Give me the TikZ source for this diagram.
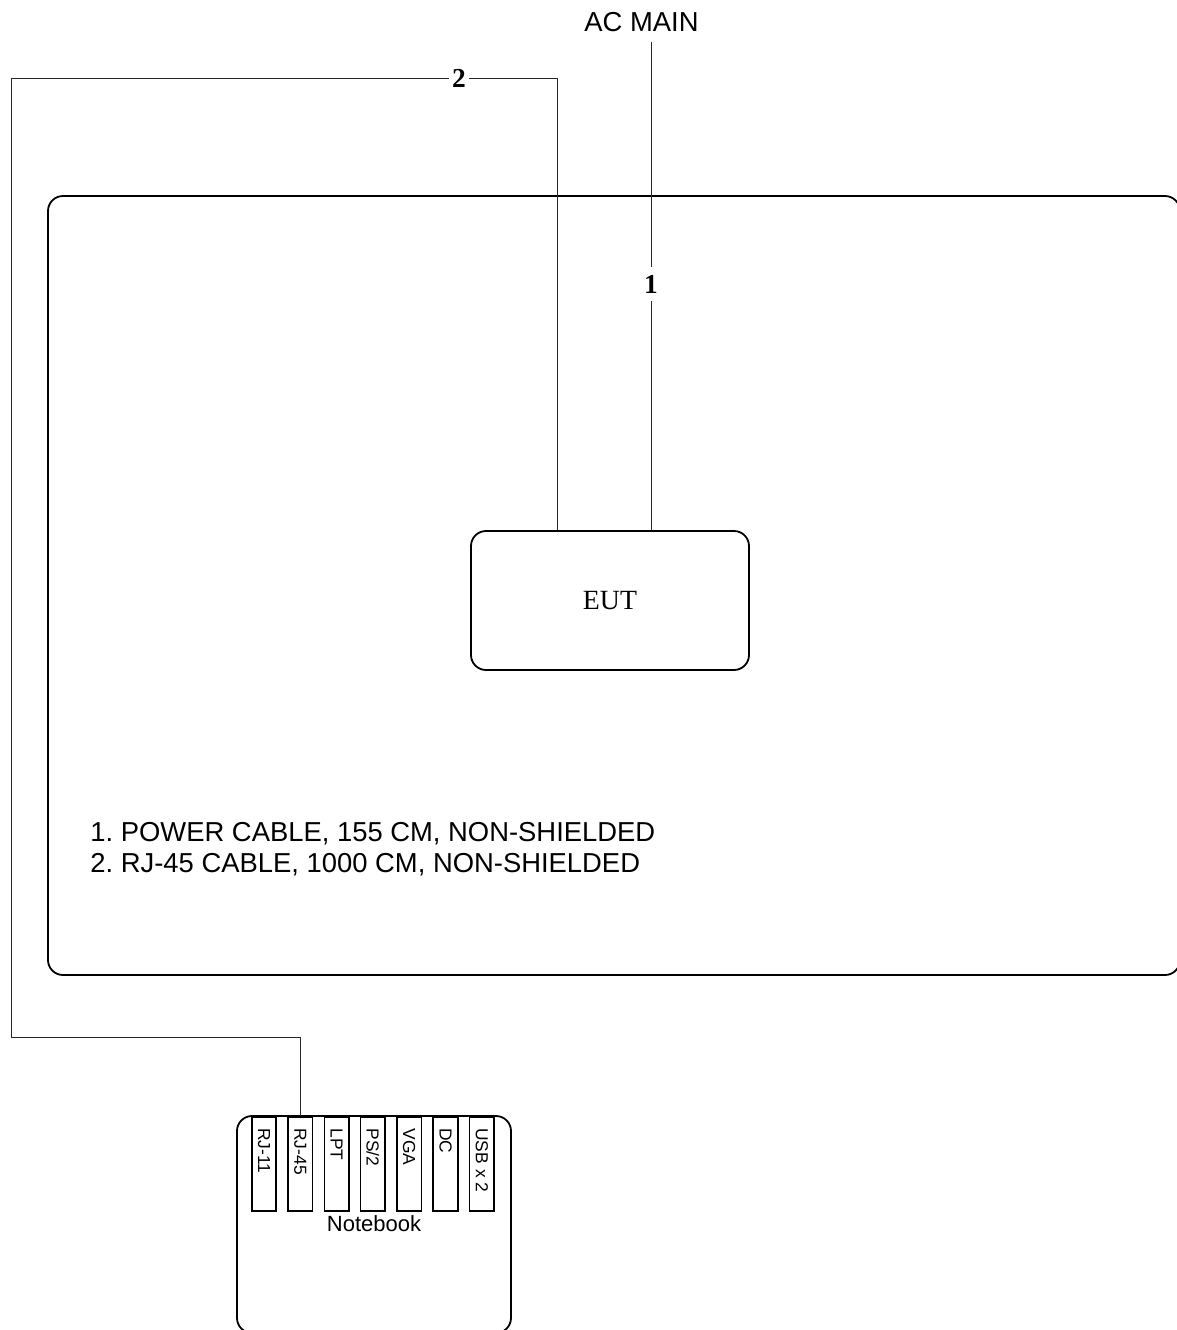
\documentclass[tikz,border=0pt]{standalone}
\usepackage{fontspec}
\setmainfont{Liberation Sans}
\newfontfamily\timesfont{Liberation Serif}
\usetikzlibrary{positioning}
\frenchspacing

\begin{document}
\begin{tikzpicture}[
  x=0.5pt, y=-0.5pt,
  font=\fontsize{13.7}{15.5}\selectfont,
  box/.style={draw, line width=0.9pt, rounded corners=7.5pt, inner sep=0pt},
  cable/.style={line width=0.5pt, draw=black!85},
  num/.style={font=\timesfont\bfseries\fontsize{13.7}{16}\selectfont, inner sep=1.5pt},
  port/.style={draw, line width=0.8pt, minimum width=12.25pt, minimum height=47pt,
    anchor=north, inner sep=0pt},
  portlbl/.style={font=\fontsize{8.7}{10}\selectfont, rotate=-90, anchor=west, inner sep=0pt}
]
\useasboundingbox (0,0) rectangle (1177,1330);

% ---- table ----
\node[box, minimum width=566pt, minimum height=389.5pt] (table) at (614,585.5) {};

% ---- EUT ----
\node[box, minimum width=139pt, minimum height=69.5pt,
      font=\timesfont\fontsize{13.9}{16}\selectfont] (eut) at (610,600.5) {EUT};

% ---- notebook with its ports ----
\node[box, minimum width=137pt, minimum height=108.5pt] (nb) at (374,1224.5) {};
\node[font=\fontsize{11}{13}\selectfont] (nblbl) at (374,1224) {Notebook};
\foreach \lbl [count=\i] in {RJ-11,RJ-45,LPT,PS/2,VGA,DC,USB x 2} {
  \node[port] (p\i) at ({264+36.3*(\i-1)},1116) {};
  \node[portlbl] at ([yshift=-6pt]p\i.north) {\lbl};
}

% ---- cable 1: AC main ----
\node (acmain) at (641.5,22) {AC MAIN};
\coordinate (acin) at (651,42);
\node[num, inner ysep=4pt] (one) at (651,284) {1};
\draw[cable] (acin) -- (one) -- (eut.north -| acin);

% ---- cable 2: RJ-45 to notebook ----
\node[num] (two) at (459,78) {2};
\coordinate (up2) at (557,78);
\coordinate (tl) at (11,78);
\coordinate (bl) at (11,1037);
\draw[cable] (eut.north -| up2) -- (up2) -- (two) -- (tl) -- (bl) -- (bl -| p2) -- (p2.north);

% ---- legend ----
\node[anchor=north west, align=left, inner sep=0pt] (legend) at (90,822)
  {1. POWER CABLE, 155 CM, NON-SHIELDED\\2. RJ-45 CABLE, 1000 CM, NON-SHIELDED};

\end{tikzpicture}
\end{document}
